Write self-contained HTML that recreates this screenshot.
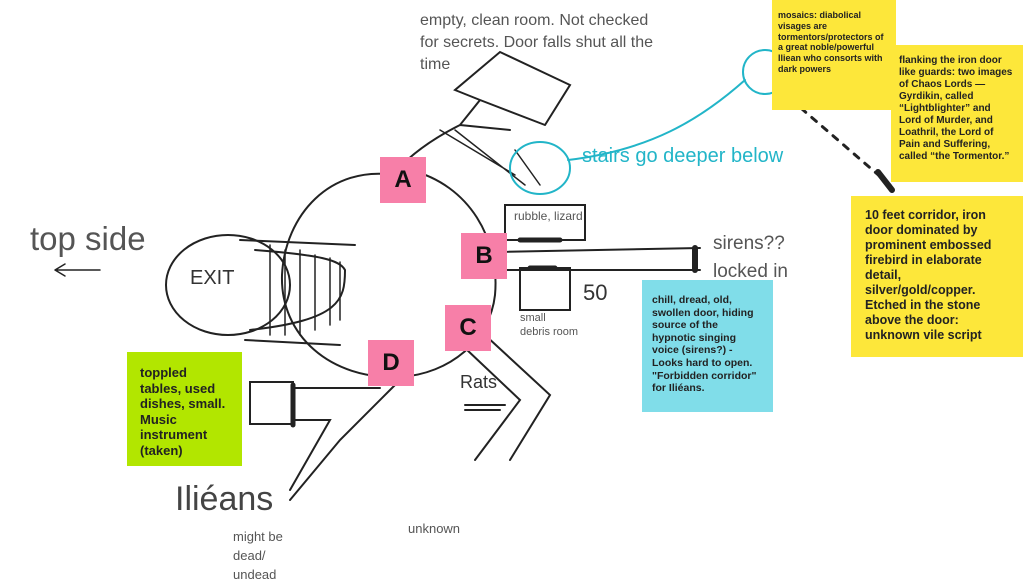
<!DOCTYPE html>
<html><head><style>
body{margin:0;width:1023px;height:587px;background:#fff;position:relative;overflow:hidden;font-family:"Liberation Sans",sans-serif}
.t{position:absolute;color:#555;white-space:nowrap}
.n{position:absolute;box-sizing:border-box;font-weight:bold;color:#222;line-height:1.2}
.p{position:absolute;width:46px;height:46px;background:#f77fa8;font:bold 24px "Liberation Sans",sans-serif;display:flex;align-items:center;justify-content:center;color:#111}
</style></head><body>
<svg width="1023" height="587" style="position:absolute;left:0;top:0" fill="none" stroke="#222" stroke-width="2" stroke-linecap="round">
<path d="M395 175 C330 165 285 215 282 275 C280 335 330 380 400 377 C450 374 490 340 495 295 C500 240 470 185 410 170"/>
<ellipse cx="228" cy="285" rx="62" ry="50"/>
<path d="M240 240 L355 245 M245 340 L340 345 M255 250 C320 255 340 260 345 270 C345 300 340 320 250 330"/>
<path d="M270 245V335M285 250V335M300 250V335M315 255V330M330 258V325M340 262V320" stroke-width="1.5"/>
<path d="M395 172 C415 150 440 135 460 125 L480 100 L455 90 L500 52 L570 85 L545 125 M460 125 L510 130 M480 100 L545 125"/>
<path d="M440 130 L515 175 M455 130 L525 185 M515 150 L540 185" stroke-width="1.5"/>
<path d="M505 205H585V240H505Z"/><path d="M520 240H560" stroke-width="5"/>
<path d="M495 252 L700 248 M495 270 L700 270" /><path d="M695 248V270" stroke-width="6"/>
<path d="M520 268H570V310H520Z"/><path d="M530 268H555" stroke-width="5"/>
<path d="M485 335 L550 395 L510 460 M465 348 L520 400 L475 460" />
<path d="M250 382H293V424H250Z"/><path d="M293 388H380 M293 420H330 L290 490 M395 385 L340 440 L290 500"/>
<path d="M293 385V425" stroke-width="5"/>
<path d="M465 405 H505 M465 410 H500" />
<path d="M780 90 L890 185" stroke-dasharray="6 8" stroke-width="3"/>
<path d="M878 172 L892 190" stroke-width="6"/>
<path d="M55 270 H100 M55 270 L65 264 M55 270 L65 276" stroke-width="1.5"/>
<g stroke="#22b5c8" stroke-width="2"><ellipse cx="540" cy="168" rx="30" ry="26"/><ellipse cx="765" cy="72" rx="22" ry="22"/><path d="M568 160 C650 150 700 120 745 80"/></g>
</svg>
<div class="p" style="left:380px;top:157px">A</div>
<div class="p" style="left:461px;top:233px">B</div>
<div class="p" style="left:445px;top:305px">C</div>
<div class="p" style="left:368px;top:340px">D</div>
<div class="t" style="left:190px;top:267px;font-size:20px;color:#333">EXIT</div>
<div class="t" style="left:420px;top:10px;font-size:16px;line-height:22px">empty, clean room. Not checked<br>for secrets. Door falls shut all the<br>time</div>
<div class="t" style="left:582px;top:145px;font-size:20px;color:#22b5c8">stairs go deeper below</div>
<div class="t" style="left:514px;top:209px;font-size:12px">rubble, lizard</div>
<div class="t" style="left:713px;top:230px;font-size:19px;line-height:28px">sirens??<br>locked in</div>
<div class="t" style="left:583px;top:280px;font-size:22px;color:#333">50</div>
<div class="t" style="left:520px;top:311px;font-size:11px;line-height:14px">small<br>debris room</div>
<div class="t" style="left:460px;top:372px;font-size:18px;color:#333">Rats</div>
<div class="t" style="left:30px;top:220px;font-size:33px">top side</div>
<div class="t" style="left:175px;top:480px;font-size:34px;color:#444">Iliéans</div>
<div class="t" style="left:233px;top:527px;font-size:13px;line-height:19px">might be<br>dead/<br>undead</div>
<div class="t" style="left:408px;top:521px;font-size:13px">unknown</div>
<div class="n" style="left:772px;top:0;width:124px;height:110px;background:#fde73a;font-size:9px;padding:10px 6px">mosaics: diabolical visages are tormentors/protectors of a great noble/powerful Iliean who consorts with dark powers</div>
<div class="n" style="left:891px;top:45px;width:132px;height:137px;background:#fde73a;font-size:10px;padding:10px 8px">flanking the iron door like guards: two images of Chaos Lords — Gyrdikin, called “Lightblighter” and Lord of Murder, and Loathril, the Lord of Pain and Suffering, called “the Tormentor.”</div>
<div class="n" style="left:851px;top:196px;width:172px;height:161px;background:#fde73a;font-size:12.5px;padding:12px 14px">10 feet corridor, iron door dominated by prominent embossed firebird in elaborate detail, silver/gold/copper. Etched in the stone above the door: unknown vile script</div>
<div class="n" style="left:642px;top:280px;width:131px;height:132px;background:#80dde9;font-size:10.5px;padding:14px 10px">chill, dread, old, swollen door, hiding source of the hypnotic singing voice (sirens?) - Looks hard to open. "Forbidden corridor" for Iliéans.</div>
<div class="n" style="left:127px;top:352px;width:115px;height:114px;background:#b2e600;font-size:13px;padding:13px 13px">toppled tables, used dishes, small. Music instrument (taken)</div>
</body></html>
